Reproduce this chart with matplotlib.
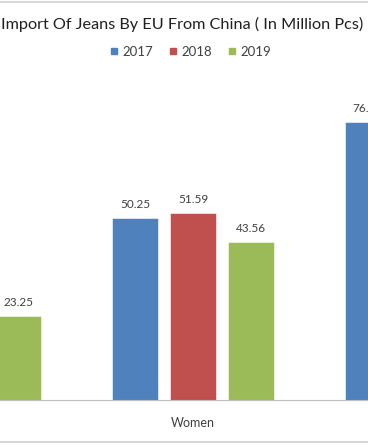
import numpy as np
import matplotlib.pyplot as plt
from matplotlib.lines import Line2D

plt.rcParams['font.family'] = ['Lato', 'DejaVu Sans']

# data: only part of the chart is in view (Men 2019, all Women, Kids 2017)
categories = ["Men", "Women", "Kids"]
years = ["2017", "2018", "2019"]
v2017 = [30.40, 50.25, 76.80]
v2018 = [27.10, 51.59, 70.20]
v2019 = [23.25, 43.56, 65.30]
colors = ["#4f81bd", "#c0504d", "#9bbb59"]

fig = plt.figure(figsize=(3.68, 4.45), dpi=100)
ax = fig.add_axes([0, 0.101, 1, 0.674])

x = np.arange(len(categories))
w = 0.197
off = 0.249
for i, (vals, c, yr) in enumerate(zip([v2017, v2018, v2019], colors, years)):
    bars = ax.bar(x + (i - 1) * off, vals, w, color=c, label=yr,
                  edgecolor="white", linewidth=0.4)
    for b, v in zip(bars, vals):
        ax.text(b.get_x() + b.get_width() / 2, v + 2.2, f"{v:.2f}",
                ha="center", va="bottom", fontsize=8.5, color="#404040")

ax.set_xticks(x)
ax.set_xticklabels(categories, fontsize=9, color="#404040")
ax.tick_params(axis="x", length=0, pad=12)
ax.set_yticks([])
# the visible window of the chart
ax.set_xlim(0.1717, 0.1717 + 368 / 233)
ax.set_ylim(0, 82.8)
for s in ["top", "left", "right"]:
    ax.spines[s].set_visible(False)
ax.spines["bottom"].set_color("#bfbfbf")
ax.patch.set_alpha(0)

fig.text(0.003, 0.946, "Import Of Jeans By EU From China ( In Million Pcs)",
         fontsize=11.7, color="#202020", ha="left", va="center")

handles = [Line2D([0], [0], marker="s", linestyle="", markersize=5,
                  markerfacecolor=c, markeredgecolor=c) for c in colors]
fig.legend(handles, years, loc="center", bbox_to_anchor=(0.515, 0.883),
           ncol=3, frameon=False, fontsize=9.5, handletextpad=0.15,
           columnspacing=1.1, handlelength=0.9, labelcolor="#404040")

# chart border (top and bottom visible)
fig.add_artist(Line2D([0, 1], [0.996, 0.996], color="#d0d0d0", lw=1.2,
                      transform=fig.transFigure))
fig.add_artist(Line2D([0, 1], [0.006, 0.006], color="#d0d0d0", lw=1.2,
                      transform=fig.transFigure))

fig.savefig("out.png", dpi=100)
